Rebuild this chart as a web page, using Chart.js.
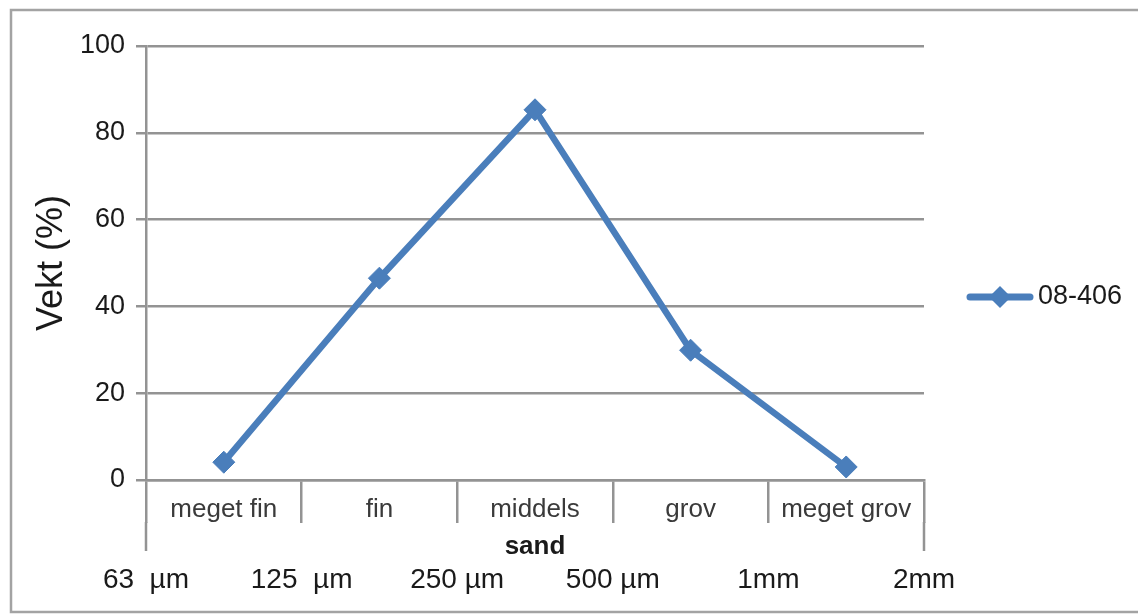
<!DOCTYPE html>
<html><head><meta charset="utf-8">
<script src="https://cdn.jsdelivr.net/npm/chart.js@4.4.1/dist/chart.umd.min.js"></script>
<style>html,body{margin:0;padding:0;background:#fff;overflow:hidden}canvas{display:block}</style>
</head><body>
<canvas id="c" width="1138" height="616"></canvas>
<script>
// ---- data ----
const categories = ['meget fin', 'fin', 'middels', 'grov', 'meget grov'];
const sizeLabels = ['63  µm', '125  µm', '250 µm', '500 µm', '1mm', '2mm'];
const seriesName = '08-406';
const seriesValues = [4.1, 46.5, 85.3, 29.9, 3.0];
const yMin = 0, yMax = 100, yStep = 20;
const yTitle = 'Vekt (%)';
const xTitle = 'sand';

// ---- styles ----
const FONT = '"Liberation Sans", Arial, sans-serif';
const BLUE = '#4a7ebb';
const GRID = '#939393';
const TEXT = '#1a1a1a';
Chart.defaults.font.family = FONT;

// legend icon: line with diamond
const icon = document.createElement('canvas');
icon.width = 68; icon.height = 28;
(function(){
  const c = icon.getContext('2d');
  c.strokeStyle = BLUE; c.lineWidth = 7; c.lineCap = 'round';
  c.beginPath(); c.moveTo(4, 14); c.lineTo(64, 14); c.stroke();
  c.fillStyle = BLUE;
  c.beginPath(); c.moveTo(34, 3); c.lineTo(45, 14); c.lineTo(34, 25); c.lineTo(23, 14); c.closePath(); c.fill();
})();

// legend geometry
const LEG_FONT = 27, LEG_PAD = 51.5, LEG_BOXW = 49;
const mctx = document.createElement('canvas').getContext('2d');
mctx.font = LEG_FONT + 'px ' + FONT;
const legendW = LEG_PAD + LEG_BOXW + LEG_FONT / 2 + mctx.measureText(seriesName).width + 10;
const rightPad = Math.max(0, 214 - legendW);

const decor = {
  id: 'decor',
  beforeDraw(chart) {
    const c = chart.ctx;
    c.save();
    c.fillStyle = '#fff'; c.fillRect(0, 0, chart.width, chart.height);
    c.strokeStyle = '#a3a3a3'; c.lineWidth = 2.5;
    c.strokeRect(11, 10, chart.width + 20, 602);
    c.restore();
  },
  afterDraw(chart) {
    const x = chart.scales.x;
    const c = chart.ctx;
    c.save();
    c.strokeStyle = GRID; c.lineWidth = 2.5;
    [x.left, x.right].forEach(px => {
      c.beginPath(); c.moveTo(px, x.top + 42); c.lineTo(px, x.top + 71); c.stroke();
    });
    c.restore();
  }
};

new Chart(document.getElementById('c'), {
  type: 'line',
  data: {
    labels: categories,
    datasets: [{
      label: seriesName,
      data: seriesValues,
      borderColor: BLUE,
      backgroundColor: BLUE,
      borderWidth: 6.5,
      tension: 0,
      pointStyle: 'rectRot',
      pointRadius: 11,
      pointBorderWidth: 1,
      pointBackgroundColor: BLUE,
      pointBorderColor: BLUE,
      clip: false
    }]
  },
  options: {
    responsive: false,
    devicePixelRatio: 1,
    animation: false,
    layout: { padding: { top: 0, left: 0, right: rightPad, bottom: 22 } },
    plugins: {
      title: { display: true, text: '', padding: 0, font: { size: 46, lineHeight: 1 } },
      tooltip: { enabled: false },
      legend: {
        position: 'right', align: 'center', fullSize: true,
        labels: {
          usePointStyle: true, pointStyle: icon, pointStyleWidth: LEG_BOXW,
          padding: LEG_PAD, font: { size: LEG_FONT }, color: TEXT
        }
      }
    },
    scales: {
      y: {
        min: yMin, max: yMax,
        ticks: { stepSize: yStep, padding: 11, color: TEXT, font: { size: 27 } },
        grid: { color: GRID, lineWidth: 2.5, tickLength: 10, drawTicks: true },
        border: { color: GRID, width: 2.5 },
        title: { display: true, text: yTitle, color: TEXT, font: { size: 36 }, padding: { top: 30, bottom: 0 } },
        afterFit(s) { s.width = 146; }
      },
      x: {
        type: 'category', position: 'bottom', weight: 1, offset: true,
        grid: { offset: true, drawOnChartArea: false, drawTicks: true, tickLength: 43, color: GRID, lineWidth: 2.5 },
        border: { display: true, color: GRID, width: 2.5 },
        ticks: { padding: -29, color: '#3a3a3a', font: { size: 26 }, maxRotation: 0, autoSkip: false },
        title: { display: true, text: xTitle, color: TEXT, font: { size: 26, weight: 'bold' }, padding: 0 },
        afterFit(s) { s.height = 82; }
      },
      x2: {
        type: 'category', position: 'bottom', weight: 2, offset: false,
        labels: sizeLabels,
        grid: { display: false }, border: { display: false },
        ticks: { padding: -7, color: TEXT, font: { size: 28 }, maxRotation: 0, autoSkip: false },
        afterFit(s) { s.height = 32; }
      }
    }
  },
  plugins: [decor]
});
</script>
</body></html>
